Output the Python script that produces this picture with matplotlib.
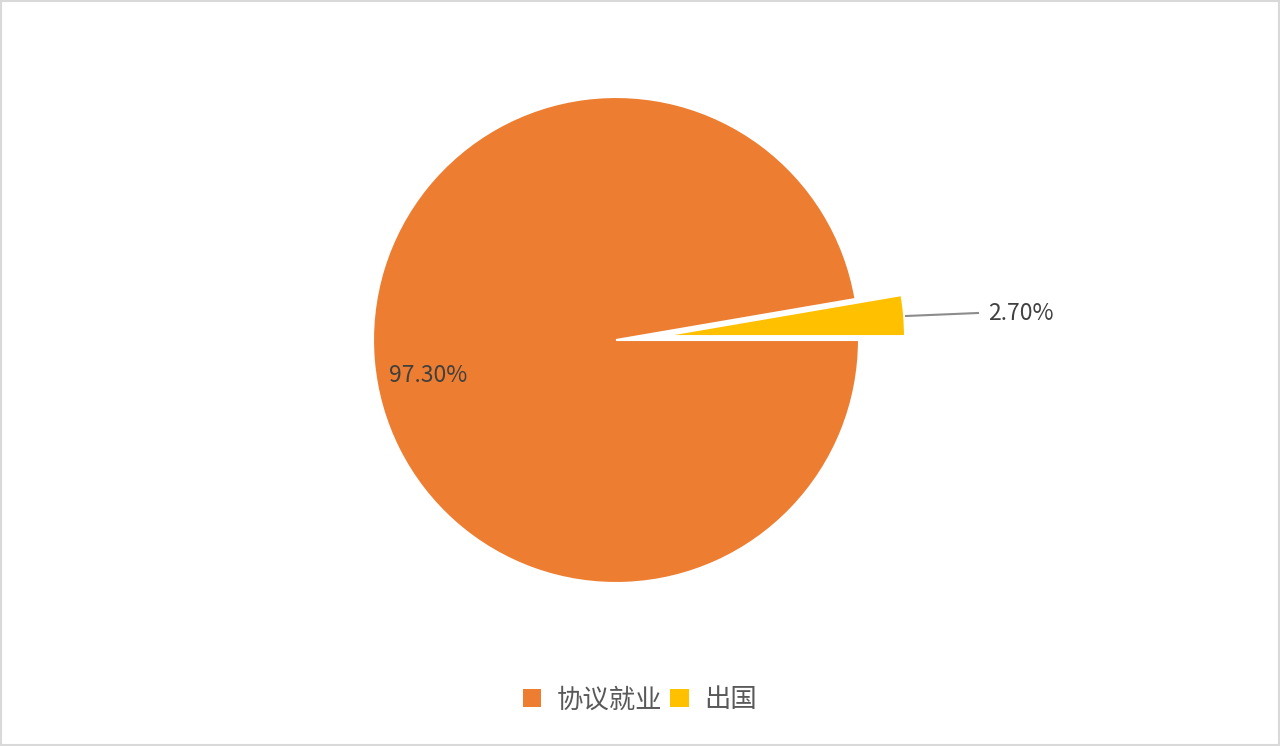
import matplotlib.pyplot as plt
from matplotlib.patches import Patch

plt.rcParams['font.family'] = ['Noto Sans CJK SC', 'DejaVu Sans']

categories = ['协议就业', '出国']
shares = [97.30, 2.70]
colors = ['#ED7D31', '#FFC000']

radius = 243
pull = 0.19  # fraction of the radius the small slice is pulled out

fig = plt.figure(figsize=(12.8, 7.46), dpi=100)
fig.patch.set_facecolor('white')
ax = fig.add_axes([0, 0, 1, 1])

start = shares[1] / 100 * 360
wedges, texts, autotexts = ax.pie(
    shares, colors=colors, explode=[0, pull * radius], startangle=start, counterclock=True,
    center=(616, 406), radius=radius, frame=True,
    autopct=lambda p: '%.2f%%' % p if p > 50 else '', pctdistance=0.8,
    wedgeprops=dict(edgecolor='white', linewidth=1.5),
    textprops=dict(fontsize=16.5, color='#404040'))
ax.set_xlim(0, 1280)
ax.set_ylim(0, 746)
ax.set_aspect('equal')
ax.axis('off')

# 97.30% label slightly lower than the wedge bisector
autotexts[0].set_position((428, 371))

# leader line and label for the small slice
ax.plot([906, 978], [430, 433], color='#8c8c8c', lw=1.5)
ax.text(988, 432, '%.2f%%' % shares[1], fontsize=16.5, color='#404040', va='center', ha='left')

handles = [Patch(facecolor=c, edgecolor='none') for c in colors]
leg = fig.legend(handles, categories, loc='center', bbox_to_anchor=(0.5, 0.062), ncol=2,
                 frameon=False, fontsize=19, handlelength=0.7, handleheight=0.7,
                 handletextpad=0.6, columnspacing=0.3, labelcolor='#595959')

# light border around the chart
fig.patches.append(plt.Rectangle((0.001, 0.001), 0.998, 0.997, transform=fig.transFigure,
                                 fill=False, edgecolor='#d9d9d9', lw=1.5))

fig.savefig('out.png', dpi=100)
